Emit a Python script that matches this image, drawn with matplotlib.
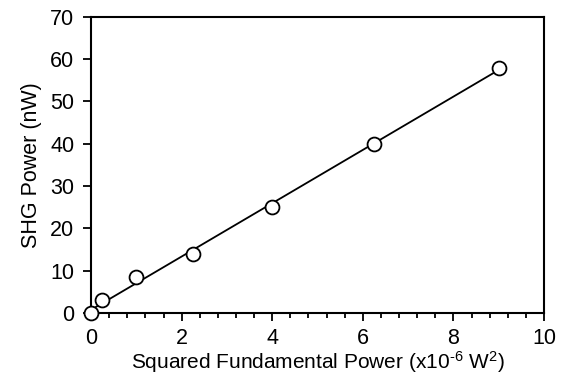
import matplotlib
matplotlib.use("Agg")
import matplotlib.pyplot as plt
from matplotlib.ticker import MultipleLocator
import numpy as np

plt.rcParams['font.family'] = ['Liberation Sans', 'DejaVu Sans']
plt.rcParams['mathtext.default'] = 'regular'
plt.rcParams['mathtext.fontset'] = 'custom'
plt.rcParams['mathtext.rm'] = 'Liberation Sans'

# data
fund_sq = [0, 0.25, 1, 2.25, 4, 6.25, 9]       # x10^-6 W^2
shg_power = [0, 3, 8.6, 14, 25, 40, 58]        # nW

# linear trendline through the measurements
slope, intercept = np.polyfit(fund_sq, shg_power, 1)
x_fit = np.array([min(fund_sq), max(fund_sq)])

fig = plt.figure(figsize=(5.62, 3.74), dpi=100)
ax = fig.add_axes([0.162, 0.163, 0.806, 0.792])

ax.plot(x_fit, slope * x_fit + intercept, color='black', lw=1.3, zorder=2)
ax.plot(fund_sq, shg_power, 'o', ms=10, mfc='white', mec='black', mew=1.3,
        clip_on=False, zorder=3)

ax.set_xlim(0, 10)
ax.set_ylim(0, 70)
ax.xaxis.set_major_locator(MultipleLocator(2))
ax.xaxis.set_minor_locator(MultipleLocator(0.4))
ax.yaxis.set_major_locator(MultipleLocator(10))

ax.tick_params(axis='both', which='major', direction='out', length=6, width=1.3,
               labelsize=15.5)
ax.tick_params(axis='x', which='major', pad=5)
ax.tick_params(axis='y', which='major', pad=6)
ax.tick_params(axis='x', which='minor', direction='out', length=3.5, width=1.3)
for s in ax.spines.values():
    s.set_linewidth(1.5)

# hyphen (U+2010) in the exponent so it stays short like the original
xlabel = 'Squared Fundamental Power (x10$^{\u20106}$ W$^{2}$)'
ax.set_xlabel(xlabel, fontsize=15, labelpad=0)
ax.set_ylabel('SHG Power (nW)', fontsize=15.5, labelpad=6)

fig.savefig('out.png', dpi=100)
